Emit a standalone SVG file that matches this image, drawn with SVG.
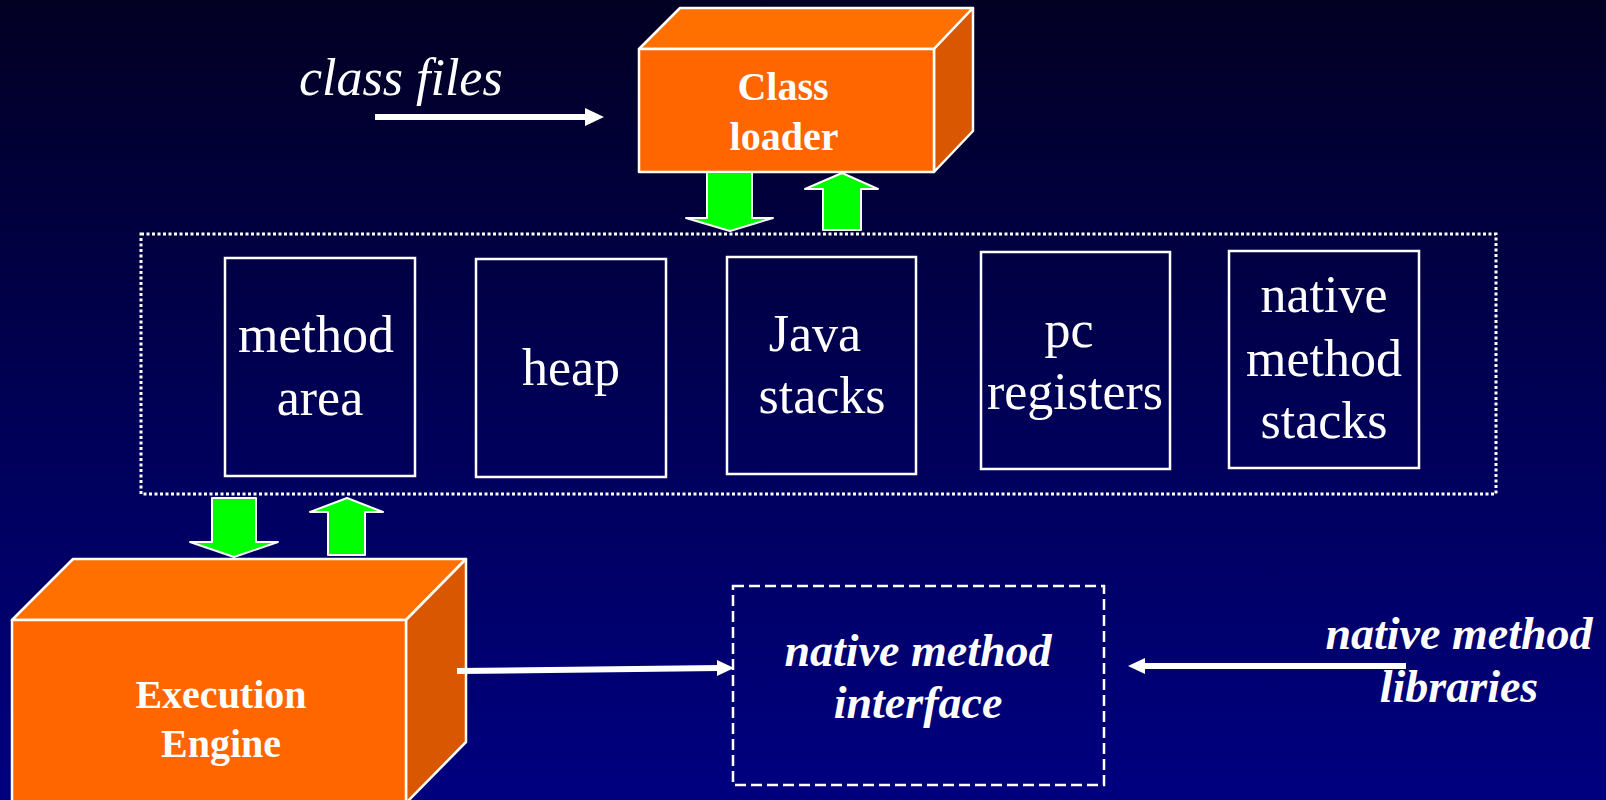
<svg xmlns="http://www.w3.org/2000/svg" width="1606" height="800" viewBox="0 0 1606 800">
  <defs>
    <linearGradient id="bg" x1="0" y1="0" x2="0" y2="1">
      <stop offset="0" stop-color="#020022"/>
      <stop offset="0.5" stop-color="#000055"/>
      <stop offset="1" stop-color="#000080"/>
    </linearGradient>
    <style>
      .front { fill: #FF6600; stroke: #FFFFFF; stroke-width: 2.5; stroke-linejoin: round; }
      .top { fill: #FF7000; stroke: #FFFFFF; stroke-width: 2.5; stroke-linejoin: round; }
      .side { fill: #D95700; stroke: #FFFFFF; stroke-width: 2.5; stroke-linejoin: round; }
      .area { fill: none; stroke: #FFFFFF; stroke-width: 2.5; }
      .green { fill: #00FF00; stroke: #FFFFFF; stroke-width: 2; stroke-linejoin: round; }
      .wire { stroke: #FFFFFF; stroke-width: 6; fill: none; }
      .head { fill: #FFFFFF; }
      .boxlabel { font-family: "Liberation Serif", "Times New Roman", serif; font-weight: bold; font-size: 40px; fill: #FFFFFF; text-anchor: middle; }
      .mem { font-family: "Liberation Serif", "Times New Roman", serif; font-size: 52px; fill: #FFFFFF; text-anchor: middle; }
      .note { font-family: "Liberation Serif", "Times New Roman", serif; font-style: italic; font-weight: bold; font-size: 46px; fill: #FFFFFF; text-anchor: middle; }
    </style>
  </defs>

  <rect x="0" y="0" width="1606" height="800" fill="url(#bg)"/>

  <!-- runtime data areas container -->
  <g id="runtime-data-areas">
    <rect x="141" y="234" width="1355" height="260" fill="none" stroke="#FFFFFF" stroke-width="3" stroke-dasharray="3 2.5"/>
  </g>

  <g id="method-area">
    <rect class="area" x="225" y="258" width="190" height="218"/>
    <text class="mem" x="316" y="352">method</text>
    <text class="mem" x="320" y="415">area</text>
  </g>

  <g id="heap">
    <rect class="area" x="476" y="259" width="190" height="218"/>
    <text class="mem" x="571" y="385">heap</text>
  </g>

  <g id="java-stacks">
    <rect class="area" x="727" y="257" width="189" height="217"/>
    <text class="mem" x="815" y="351">Java</text>
    <text class="mem" x="822" y="413">stacks</text>
  </g>

  <g id="pc-registers">
    <rect class="area" x="981" y="252" width="189" height="217"/>
    <text class="mem" x="1069" y="347">pc</text>
    <text class="mem" x="1075" y="409">registers</text>
  </g>

  <g id="native-method-stacks">
    <rect class="area" x="1229" y="251" width="190" height="217"/>
    <text class="mem" x="1324" y="312">native</text>
    <text class="mem" x="1324" y="376">method</text>
    <text class="mem" x="1324" y="438">stacks</text>
  </g>

  <!-- class loader block -->
  <g id="class-loader">
    <polygon class="top" points="639,49 680,8 973,8 934,49"/>
    <polygon class="side" points="934,49 973,8 973,131 934,172"/>
    <rect class="front" x="639" y="49" width="295" height="123"/>
    <text class="boxlabel" x="783" y="100">Class</text>
    <text class="boxlabel" x="784" y="150">loader</text>
  </g>

  <!-- execution engine block -->
  <g id="execution-engine">
    <polygon class="top" points="12,620 73,559 466,559 406,620"/>
    <polygon class="side" points="406,620 466,559 466,742 406,803"/>
    <rect class="front" x="12" y="620" width="394" height="200"/>
    <text class="boxlabel" x="221" y="708">Execution</text>
    <text class="boxlabel" x="221" y="757">Engine</text>
  </g>

  <!-- native method interface -->
  <g id="native-method-interface">
    <rect x="733" y="586" width="371" height="199" fill="none" stroke="#FFFFFF" stroke-width="2.5" stroke-dasharray="11 5"/>
    <text class="note" x="918" y="666">native method</text>
    <text class="note" x="918" y="718">interface</text>
  </g>

  <g id="class-files">
    <text x="299" y="95" font-family="'Liberation Serif', 'Times New Roman', serif" font-style="italic" font-size="52" fill="#FFFFFF">class files</text>
  </g>

  <g id="native-method-libraries">
    <text class="note" x="1459" y="649">native method</text>
    <text class="note" x="1459" y="702">libraries</text>
  </g>

  <!-- connectors -->
  <g id="connectors">
    <!-- data flow between class loader and data areas -->
    <polygon class="green" points="707,172 752,172 752,218 773,218 730,231 686,218 707,218"/>
    <polygon class="green" points="823,230 861,230 861,189 878,189 842,173 805,189 823,189"/>
    <!-- data flow between data areas and execution engine -->
    <polygon class="green" points="212,498 256,498 256,542 278,542 234,557 190,542 212,542"/>
    <polygon class="green" points="328,555 365,555 365,512 383,512 347,498 310,512 328,512"/>

    <!-- class files into class loader -->
    <line class="wire" x1="375" y1="117" x2="588" y2="117"/>
    <polygon class="head" points="585,108 604,117 585,126"/>

    <!-- execution engine to native method interface -->
    <line class="wire" x1="457" y1="671" x2="720" y2="668"/>
    <polygon class="head" points="717,660 734,668 717,676"/>

    <!-- native libraries to native method interface -->
    <line class="wire" x1="1406" y1="666" x2="1142" y2="666"/>
    <polygon class="head" points="1145,658 1128,666 1145,674"/>
  </g>
</svg>
